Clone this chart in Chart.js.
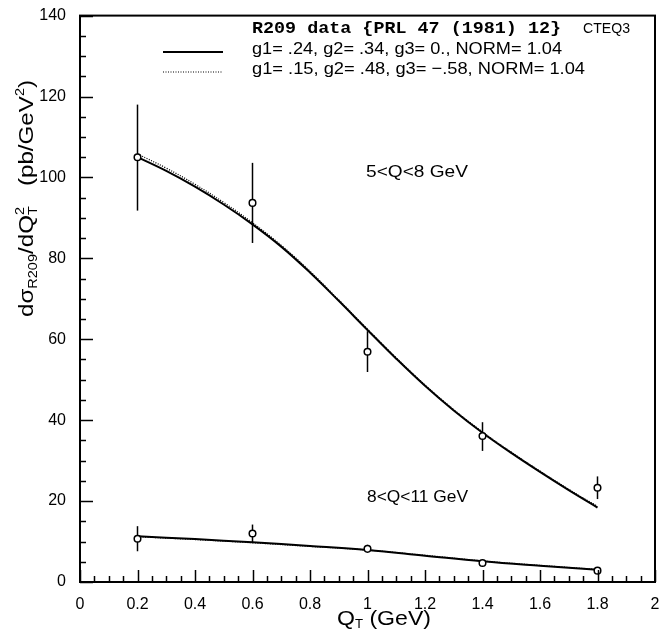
<!DOCTYPE html>
<html><head><meta charset="utf-8">
<script src="https://cdn.jsdelivr.net/npm/chart.js@4"></script>
<style>html,body{margin:0;padding:0;background:#fff}#wrap{width:672px;height:633px}</style>
</head><body><div id="wrap"><canvas id="c" width="672" height="633"></canvas></div>
<script>
// ---- data ----
const qtPoints = [0.2, 0.6, 1.0, 1.4, 1.8];
// 5<Q<8 GeV data
const lowQVal     = [105.0, 93.7, 56.9, 36.1, 23.3];
const lowQErrLow  = [91.8, 83.8, 51.9, 32.4, 20.5];
const lowQErrHigh = [118.0, 103.6, 62.0, 39.5, 26.1];
// 8<Q<11 GeV data
const highQVal     = [10.7, 12.0, 8.2, 4.7, 2.8];
const highQErrLow  = [7.6, 9.8, 7.4, 4.2, 2.4];
const highQErrHigh = [13.8, 14.2, 9.2, 5.3, 3.3];
// theory curves, 5<Q<8
const qtCurveLow = [0.2,0.3,0.4,0.5,0.6,0.7,0.8,0.9,1.0,1.1,1.2,1.3,1.4,1.5,1.6,1.7,1.8];
const lowQSolid  = [105.0,101.6,97.7,93.3,88.4,82.9,76.5,69.5,62.3,55.2,48.5,42.4,36.9,31.9,27.2,22.7,18.4];
const lowQDotted = [105.8,102.3,98.3,93.8,88.8,83.2,76.8,69.7,62.5,55.4,48.7,42.6,37.1,32.1,27.4,22.9,18.7];
// theory curves, 8<Q<11
const qtCurveHigh = [0.2,0.4,0.6,0.8,1.0,1.2,1.4,1.6,1.8];
const highQSolid  = [11.3,10.6,9.8,8.9,7.9,6.5,5.1,4.0,3.0];
const highQDotted = [11.2,10.5,9.7,8.8,7.9,6.6,5.2,4.1,3.1];
// tick labels
const xTickLabels = ['0','0.2','0.4','0.6','0.8','1','1.2','1.4','1.6','1.8','2'];
const yTickLabels = ['0','20','40','60','80','100','120','140'];
// texts
const headerText = 'R209 data {PRL 47 (1981) 12}';
const headerTag = 'CTEQ3';
const legendSolid = 'g1= .24, g2= .34, g3= 0., NORM= 1.04';
const legendDotted = 'g1= .15, g2= .48, g3= \u2212.58, NORM= 1.04';
const labelLowQ = '5<Q<8 GeV';
const labelHighQ = '8<Q<11 GeV';

const pts = (xs, ys) => xs.map((x, i) => ({x, y: ys[i]}));
const SANS = '"Liberation Sans", Arial, sans-serif';
const MONO = '"Liberation Mono", "DejaVu Sans Mono", monospace';

function fitText(ctx, text, x, y, w, font) {
  ctx.save();
  ctx.font = font;
  const m = ctx.measureText(text).width;
  ctx.translate(x, y);
  ctx.scale(w / m, 1);
  ctx.fillText(text, 0, 0);
  ctx.restore();
}

const errorBars = {
  id: 'errorBars',
  beforeDatasetsDraw(chart) {
    const {ctx, scales: {x, y}} = chart;
    ctx.save();
    ctx.strokeStyle = '#000';
    ctx.lineWidth = 1.5;
    const sets = [[lowQErrLow, lowQErrHigh], [highQErrLow, highQErrHigh]];
    sets.forEach(([lo, hi]) => {
      qtPoints.forEach((q, i) => {
        const px = x.getPixelForValue(q);
        ctx.beginPath();
        ctx.moveTo(px, y.getPixelForValue(lo[i]));
        ctx.lineTo(px, y.getPixelForValue(hi[i]));
        ctx.stroke();
      });
    });
    ctx.restore();
  }
};

const decor = {
  id: 'decor',
  afterDraw(chart) {
    const {ctx, chartArea: a, scales: {x, y}} = chart;
    ctx.save();
    ctx.strokeStyle = '#000';
    ctx.fillStyle = '#000';
    // ticks inside
    ctx.lineWidth = 1.5;
    x.ticks.forEach(t => {
      const k = Math.round(t.value * 20);
      const len = (k % 4 === 0) ? 12 : 6;
      const px = Math.round(x.getPixelForValue(t.value)) + 0.5;
      ctx.beginPath(); ctx.moveTo(px, a.bottom); ctx.lineTo(px, a.bottom - len); ctx.stroke();
    });
    y.ticks.forEach(t => {
      const k = Math.round(t.value / 5);
      const len = (k % 4 === 0) ? 13 : 6;
      const py = Math.round(y.getPixelForValue(t.value)) + 0.5;
      ctx.beginPath(); ctx.moveTo(a.left, py); ctx.lineTo(a.left + len, py); ctx.stroke();
    });
    // frame
    ctx.lineWidth = 2;
    ctx.strokeRect(a.left, a.top, a.right - a.left, a.bottom - a.top);

    // header / legend
    ctx.textBaseline = 'middle';
    fitText(ctx, headerText, 252, 29, 309, 'bold 16px ' + MONO);
    fitText(ctx, headerTag, 583, 29, 47, '15px ' + SANS);
    fitText(ctx, legendSolid, 252, 49, 310, '17px ' + SANS);
    fitText(ctx, legendDotted, 252, 69, 333, '17px ' + SANS);
    ctx.lineWidth = 2;
    ctx.setLineDash([]);
    ctx.beginPath(); ctx.moveTo(163, 52); ctx.lineTo(223, 52); ctx.stroke();
    ctx.lineWidth = 1.2;
    ctx.setLineDash([1, 1.5]);
    ctx.beginPath(); ctx.moveTo(163, 72); ctx.lineTo(223, 72); ctx.stroke();
    ctx.setLineDash([]);

    // curve labels
    fitText(ctx, labelLowQ, 366, 172, 102, '17px ' + SANS);
    fitText(ctx, labelHighQ, 367, 497, 101, '17px ' + SANS);

    // x title
    ctx.textBaseline = 'alphabetic';
    {
      const parts = [
        {t: 'Q', f: '21px ' + SANS, dy: 0},
        {t: 'T', f: '12px ' + SANS, dy: 3},
        {t: ' (GeV)', f: '21px ' + SANS, dy: 0}
      ];
      let total = 0;
      parts.forEach(p => { ctx.font = p.f; p.w = ctx.measureText(p.t).width; total += p.w; });
      const sx = 94 / total;
      ctx.save();
      ctx.translate(337, 625);
      ctx.scale(sx, 1);
      let cx = 0;
      parts.forEach(p => { ctx.font = p.f; ctx.fillText(p.t, cx, p.dy); cx += p.w; });
      ctx.restore();
    }
    // y title (rotated)
    {
      const big = '20px ' + SANS, small = '12px ' + SANS;
      const parts = [
        {t: 'd\u03c3', f: big, dy: 0},
        {t: 'R209', f: small, dy: 4},
        {t: '/dQ', f: big, dy: 0},
        {t: 'T', f: small, dy: 4, stack: '2', sdy: -9},
        {t: '   (pb/GeV', f: big, dy: 0},
        {t: '2', f: small, dy: -9},
        {t: ')', f: big, dy: 0}
      ];
      let total = 0;
      parts.forEach(p => { ctx.font = p.f; p.w = ctx.measureText(p.t).width; total += p.w; });
      const sx = 237 / total;
      ctx.save();
      ctx.translate(33, 317);
      ctx.rotate(-Math.PI / 2);
      ctx.scale(sx, 1);
      let cx = 0;
      parts.forEach(p => {
        ctx.font = p.f;
        ctx.fillText(p.t, cx, p.dy);
        if (p.stack) ctx.fillText(p.stack, cx, p.sdy);
        cx += p.w;
      });
      ctx.restore();
    }
    ctx.restore();
  }
};

const curveStyle = {showLine: true, pointRadius: 0, fill: false, tension: 0.4, borderColor: '#000', order: 2};
const pointStyle = {showLine: false, pointRadius: 3.3, pointBorderWidth: 1.5, pointBackgroundColor: '#fff', pointBorderColor: '#000', order: 0};

new Chart(document.getElementById('c'), {
  type: 'scatter',
  data: {
    datasets: [
      {label: 'solid 5<Q<8', data: pts(qtCurveLow, lowQSolid), borderWidth: 2, ...curveStyle},
      {label: 'dotted 5<Q<8', data: pts(qtCurveLow, lowQDotted), borderWidth: 1.3, borderDash: [1, 1.5], ...curveStyle},
      {label: 'solid 8<Q<11', data: pts(qtCurveHigh, highQSolid), borderWidth: 2, ...curveStyle},
      {label: 'dotted 8<Q<11', data: pts(qtCurveHigh, highQDotted), borderWidth: 1.3, borderDash: [1, 1.5], ...curveStyle},
      {label: 'data 5<Q<8', data: pts(qtPoints, lowQVal), ...pointStyle},
      {label: 'data 8<Q<11', data: pts(qtPoints, highQVal), ...pointStyle}
    ]
  },
  options: {
    responsive: false,
    animation: false,
    devicePixelRatio: 1,
    layout: {padding: {top: 12, right: 17, left: 0, bottom: 0}},
    plugins: {legend: {display: false}, tooltip: {enabled: false}},
    scales: {
      x: {
        type: 'linear', min: 0, max: 2,
        grid: {display: false}, border: {display: false},
        afterFit: s => { s.height = 51; },
        ticks: {
          stepSize: 0.05, autoSkip: false, maxRotation: 0, minRotation: 0,
          padding: 5, color: '#000', font: {family: SANS, size: 16},
          callback: v => { const k = Math.round(v * 20); return k % 4 === 0 ? xTickLabels[k / 4] : ''; }
        }
      },
      y: {
        type: 'linear', min: 0, max: 140,
        grid: {display: false}, border: {display: false},
        afterFit: s => { s.width = 80; },
        ticks: {
          stepSize: 5, autoSkip: false, padding: 6, color: '#000', font: {family: SANS, size: 16},
          callback: v => { const k = Math.round(v / 5); return k % 4 === 0 ? yTickLabels[k / 4] : ''; }
        }
      }
    }
  },
  plugins: [errorBars, decor]
});
</script>
</body></html>
